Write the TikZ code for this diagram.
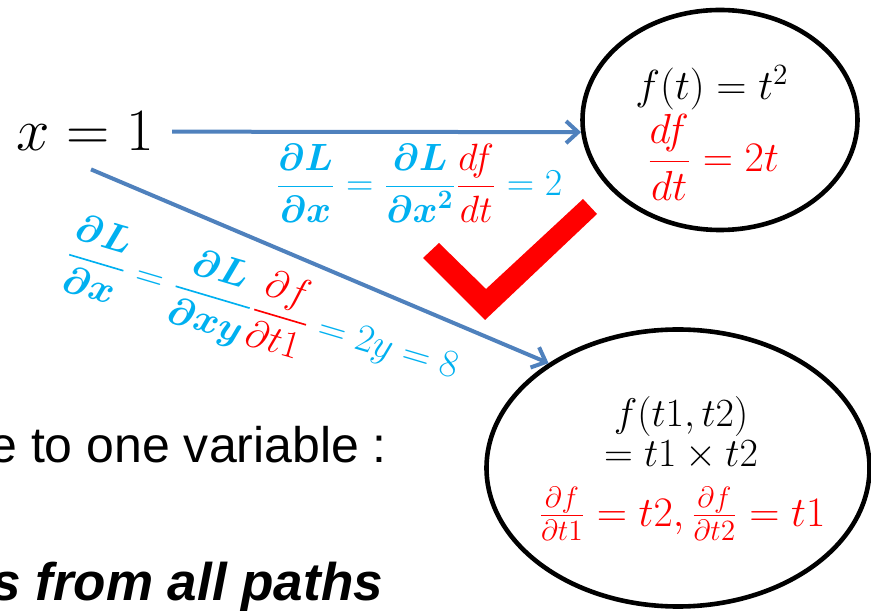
\RequirePackage{fix-cm}
\documentclass[tikz,border=0pt]{standalone}
\usepackage{amsmath}
\usepackage{fontspec}
\newfontfamily\arialfont{Liberation Sans}
\usetikzlibrary{shapes.geometric, arrows.meta}

\definecolor{linkblue}{RGB}{79,129,189}
\definecolor{gradcyan}{RGB}{0,176,240}

\begin{document}
\begin{tikzpicture}[
    x=0.5pt, y=-0.5pt,
    every node/.style={align=center},
    bubble/.style={draw, ellipse, line width=2.3pt, inner sep=0pt},
    link/.style={draw=linkblue, line width=2pt, -{Straight Barb[length=6pt, width=11pt]}},
    formula/.style={font=\fontsize{20}{24}\selectfont, anchor=base},
    slide/.style={font=\arialfont\fontsize{25}{30}\selectfont, anchor=base east}
]

    % Frame of the slide crop
    \useasboundingbox (0,0) rectangle (871,613);
    \clip (0,0) rectangle (871,613);

    % Input variable
    \node[formula, font=\fontsize{30}{36}\selectfont, inner xsep=9pt, inner ysep=9pt] (xval) at (85,151) {$x = 1$};

    % Function bubbles
    \node[bubble, minimum width=137.5pt, minimum height=110pt] (ell1) at (720,120) {};
    \node[bubble, minimum width=191.5pt, minimum height=138.5pt] (ell2) at (678,468) {};

    % Texts inside the bubbles
    \node[formula, font=\fontsize{21}{25}\selectfont] (fsq) at (712,100) {$f(t) = t^2$};
    \node[formula, text=red, font=\fontsize{21}{25}\selectfont] (dfsq) at (713,172) {$\dfrac{df}{dt} = 2t$};
    \node[formula] (fprod) at (681,427) {$f(t1,t2)$};
    \node[formula] (fprodb) at (681,467) {$= t1 \times t2$};
    \node[formula, text=red, font=\fontsize{21}{25}\selectfont] (dfprod) at (682,526) {$\tfrac{\partial f}{\partial t1} = t2, \tfrac{\partial f}{\partial t2} = t1$};

    % Connections
    \draw[link] (xval.east) -- (ell1.185);
    \draw[link] ([xshift=3pt]xval.south) -- (ell2.141);

    % Gradient labels
    \node[formula, text=gradcyan, font=\fontsize{19}{23}\selectfont] (gradsq) at (419,196)
        {$\dfrac{\boldsymbol{\partial L}}{\boldsymbol{\partial x}} = \dfrac{\boldsymbol{\partial L}}{\boldsymbol{\partial x^2}}\textcolor{red}{\dfrac{df}{dt}} = 2$};
    \node[text=gradcyan, font=\fontsize{19.5}{24}\selectfont, rotate=-16.5] (gradprod) at (262,312)
        {$\dfrac{\boldsymbol{\partial L}}{\boldsymbol{\partial x}} = \dfrac{\boldsymbol{\partial L}}{\boldsymbol{\partial xy}}\textcolor{red}{\dfrac{\partial f}{\partial t1}} = 2y = 8$};

    % Red check mark
    \fill[red] (423,258) -- (439,243) -- (486,289) -- (583,199) -- (597,214) -- (485,320) -- cycle;

    % Slide text, cut at the left edge
    \node[slide] (onevar) at (394,463) {e to one variable :};
    \node[slide, font=\arialfont\bfseries\itshape\fontsize{26.5}{32}\selectfont] (allpaths) at (390,600) {s from all paths};

\end{tikzpicture}
\end{document}
